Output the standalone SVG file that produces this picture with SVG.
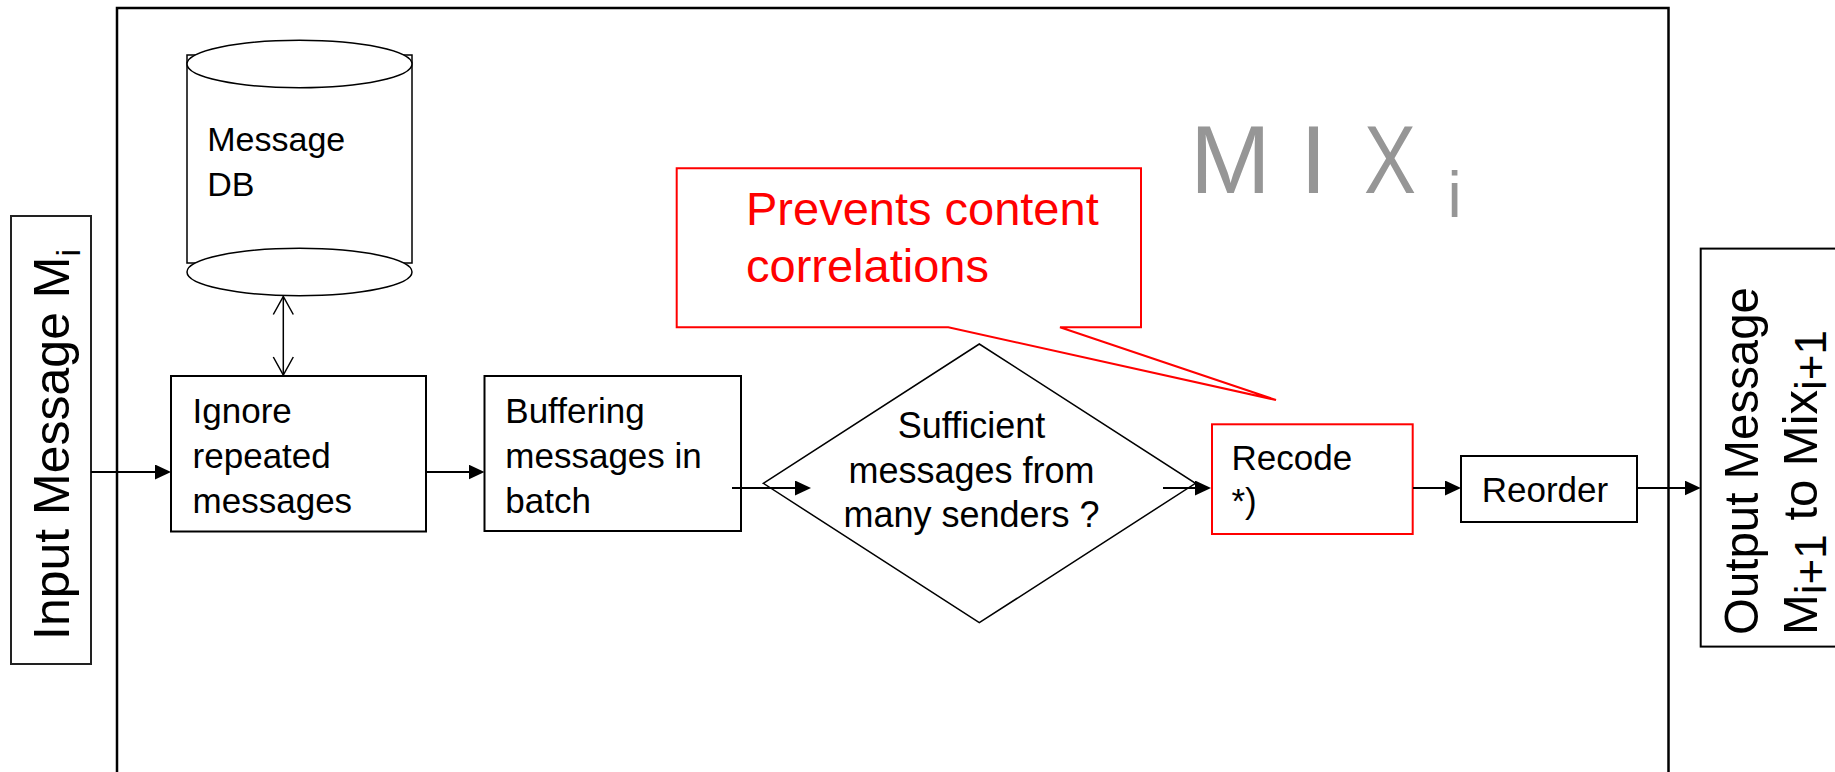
<svg xmlns="http://www.w3.org/2000/svg" width="1835" height="772" viewBox="0 0 1835 772">
<defs>
<style>
.t{font-family:"Liberation Sans",Arial,sans-serif;fill:#000}
.red{fill:#FF0000}
.box{fill:#fff;stroke:#000;stroke-width:2}
.conn{stroke:#000;stroke-width:2;fill:none}
.mix{fill:#969696}
</style>
<marker id="ah" markerUnits="userSpaceOnUse" viewBox="0 0 16 16" markerWidth="16" markerHeight="16" refX="11" refY="7.5" orient="auto"><path d="M0,0 L16,7.5 L0,15 z" fill="#000"/></marker>
<marker id="oa" markerUnits="userSpaceOnUse" viewBox="0 0 20 22" markerWidth="20" markerHeight="22" refX="19" refY="11" orient="auto-start-reverse"><path d="M1,1 L19,11 L1,21" fill="none" stroke="#000" stroke-width="1.5"/></marker>
</defs>
<rect width="1835" height="772" fill="#fff"/>

<g id="mix-frame">
<rect x="117" y="8" width="1551.5" height="800" fill="none" stroke="#000" stroke-width="2.5"/>
<text class="t mix" font-size="97"><tspan x="1190" y="193.3">M</tspan><tspan x="1300" y="193.3">I</tspan></text>
<text class="t mix" font-size="97" x="1364" y="193.3" textLength="52" lengthAdjust="spacingAndGlyphs">X</text>
<text class="t mix" font-size="64" x="1447.5" y="216.7">i</text>
</g>

<g id="input">
<rect x="11" y="216" width="80" height="448" fill="#fff" stroke="#222" stroke-width="2"/>
<text class="t" font-size="50" transform="translate(69,640) rotate(-90)">Input Message M<tspan font-size="34" dy="11">i</tspan></text>
</g>

<g id="messagedb">
<rect x="187" y="55" width="225" height="208" fill="#fff" stroke="#000" stroke-width="1.5"/>
<ellipse cx="299.5" cy="272" rx="112.5" ry="23.7" fill="#fff" stroke="#000" stroke-width="1.5"/>
<ellipse cx="299.5" cy="64" rx="112.5" ry="23.8" fill="#fff" stroke="#000" stroke-width="1.5"/>
<text class="t" font-size="34"><tspan x="207.3" y="150.7">Message</tspan><tspan x="207.3" y="195.7">DB</tspan></text>
</g>

<g id="ignore">
<rect class="box" x="171" y="376" width="255" height="155.5"/>
<text class="t" font-size="35"><tspan x="192.6" y="422.7">Ignore</tspan><tspan x="192.6" y="468">repeated</tspan><tspan x="192.6" y="512.7">messages</tspan></text>
</g>

<g id="buffering">
<rect class="box" x="484.5" y="376" width="256.5" height="155"/>
<text class="t" font-size="35"><tspan x="505.3" y="422.7">Buffering</tspan><tspan x="505.3" y="468">messages in</tspan><tspan x="505.3" y="512.7">batch</tspan></text>
</g>

<g id="decision">
<polygon points="763.3,483.3 979.3,344 1195.5,483.3 979.3,622.7" fill="#fff" stroke="#000" stroke-width="1.5"/>
<text class="t" font-size="36" text-anchor="middle"><tspan x="971.5" y="438.3">Sufficient</tspan><tspan x="971.5" y="483.3">messages from</tspan><tspan x="971.5" y="526.7">many senders ?</tspan></text>
</g>

<g id="callout">
<path d="M676.7,168.3 H1141 V327.3 H1060 L1276,400 L948.3,327.3 H676.7 Z" fill="#fff" stroke="#FF0000" stroke-width="2"/>
<text class="t red" font-size="47"><tspan x="746" y="225">Prevents content</tspan><tspan x="746" y="281.7">correlations</tspan></text>
</g>

<g id="recode">
<rect x="1212" y="424.3" width="200.7" height="109.7" fill="#fff" stroke="#FF0000" stroke-width="2"/>
<text class="t" font-size="35"><tspan x="1231.5" y="470">Recode</tspan><tspan x="1231.5" y="513">*)</tspan></text>
</g>

<g id="reorder">
<rect class="box" x="1461" y="456" width="176" height="66"/>
<text class="t" font-size="35" x="1481.7" y="501.7">Reorder</text>
</g>

<g id="output">
<rect x="1700.7" y="248.6" width="200" height="398" fill="#fff" stroke="#000" stroke-width="2"/>
<text class="t" font-size="49" transform="translate(1758.3,635) rotate(-90)" textLength="348" lengthAdjust="spacingAndGlyphs">Output Message</text>
<text class="t" font-size="49" transform="translate(1817,635) rotate(-90)">M<tspan font-size="44" dy="9">i+1</tspan><tspan dy="-9"> to Mix</tspan><tspan font-size="44" dy="9">i+1</tspan></text>
</g>

<g id="connectors">
<line class="conn" x1="91" y1="472" x2="166" y2="472" marker-end="url(#ah)"/>
<line class="conn" x1="426" y1="472" x2="479.5" y2="472" marker-end="url(#ah)"/>
<line class="conn" x1="732" y1="488" x2="806" y2="488" marker-end="url(#ah)"/>
<line class="conn" x1="1163" y1="488" x2="1206" y2="488" marker-end="url(#ah)"/>
<line class="conn" x1="1413" y1="488" x2="1456" y2="488" marker-end="url(#ah)"/>
<line class="conn" x1="1637" y1="488" x2="1695.7" y2="488" marker-end="url(#ah)"/>
<line x1="283.3" y1="296.5" x2="283.3" y2="375" stroke="#000" stroke-width="1.5" marker-start="url(#oa)" marker-end="url(#oa)"/>
</g>
</svg>
